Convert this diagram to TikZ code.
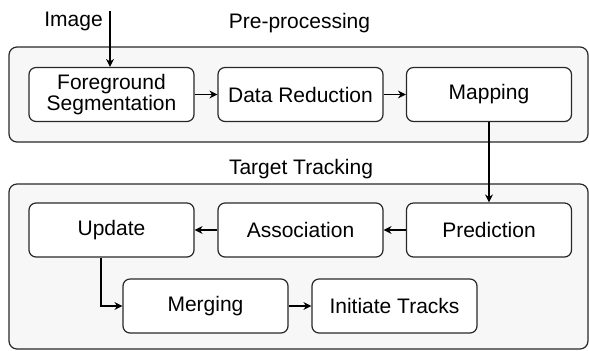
\documentclass[tikz,border=0pt]{standalone}
\usepackage{fontspec}
\setmainfont{Liberation Sans}
\usepackage{tikz}
\usetikzlibrary{positioning, arrows.meta}
\definecolor{PanelFill}{RGB}{247,247,247}
\definecolor{EdgeGray}{RGB}{40,40,40}

\begin{document}
\begin{tikzpicture}[x=0.5pt, y=-0.5pt,
      panel/.style={rectangle, rounded corners=4pt, draw=EdgeGray,
                    fill=PanelFill, line width=0.6pt, minimum width=289.5pt},
      sbox/.style={rectangle, rounded corners=3.5pt, draw=EdgeGray,
                   fill=white, line width=0.6pt, minimum width=82.5pt,
                   minimum height=27pt, inner sep=0pt, align=center,
                   font=\fontsize{10.5}{10.5}\selectfont},
      lbl/.style={anchor=base, inner sep=0pt,
                  font=\fontsize{10.5}{10.5}\selectfont},
      arr/.style={-{Stealth[length=4pt, width=4pt]}, draw=black, line width=0.6pt}
    ]
    \useasboundingbox (0,0) rectangle (589,350);

    \node[panel, minimum height=47.5pt] (pre) at (298.5, 94.5) {};
    \node[panel, minimum height=82.5pt] (trk) at (298.5, 266.5) {};

    \node[lbl] (img)    at (73.5, 26)  {Image};
    \node[lbl] (pretxt) at (299.5, 28) {Pre-processing};
    \node[lbl] (trktxt) at (301, 174)  {Target Tracking};

    \node[sbox] (fgs) at (111.5, 94.5) {Foreground\\Segmentation};
    \node[sbox] (dred) at (300.5, 94.5) {Data Reduction};
    \node[sbox] (mapg) at (489, 94.5)   {Mapping};

    \node[sbox] (upd)  at (111.5, 230) {Update};
    \node[sbox] (asso) at (300.5, 230) {Association};
    \node[sbox] (pred) at (489, 230)   {Prediction};

    \node[sbox] (merg) at (205.5, 306) {Merging};
    \node[sbox] (init) at (394.5, 306) {Initiate Tracks};

    \coordinate (imgin) at (110, 11);

    \draw[arr] (imgin) -- (imgin |- fgs.north);
    \draw[arr] (fgs)  -- (dred);
    \draw[arr] (dred) -- (mapg);
    \draw[arr] (mapg) -- (pred);
    \draw[arr] (pred) -- (asso);
    \draw[arr] (asso) -- (upd);
    \draw[arr] ([xshift=-5.25pt]upd.south) |- (merg.west);
    \draw[arr] (merg) -- (init);
  \end{tikzpicture}
\end{document}
